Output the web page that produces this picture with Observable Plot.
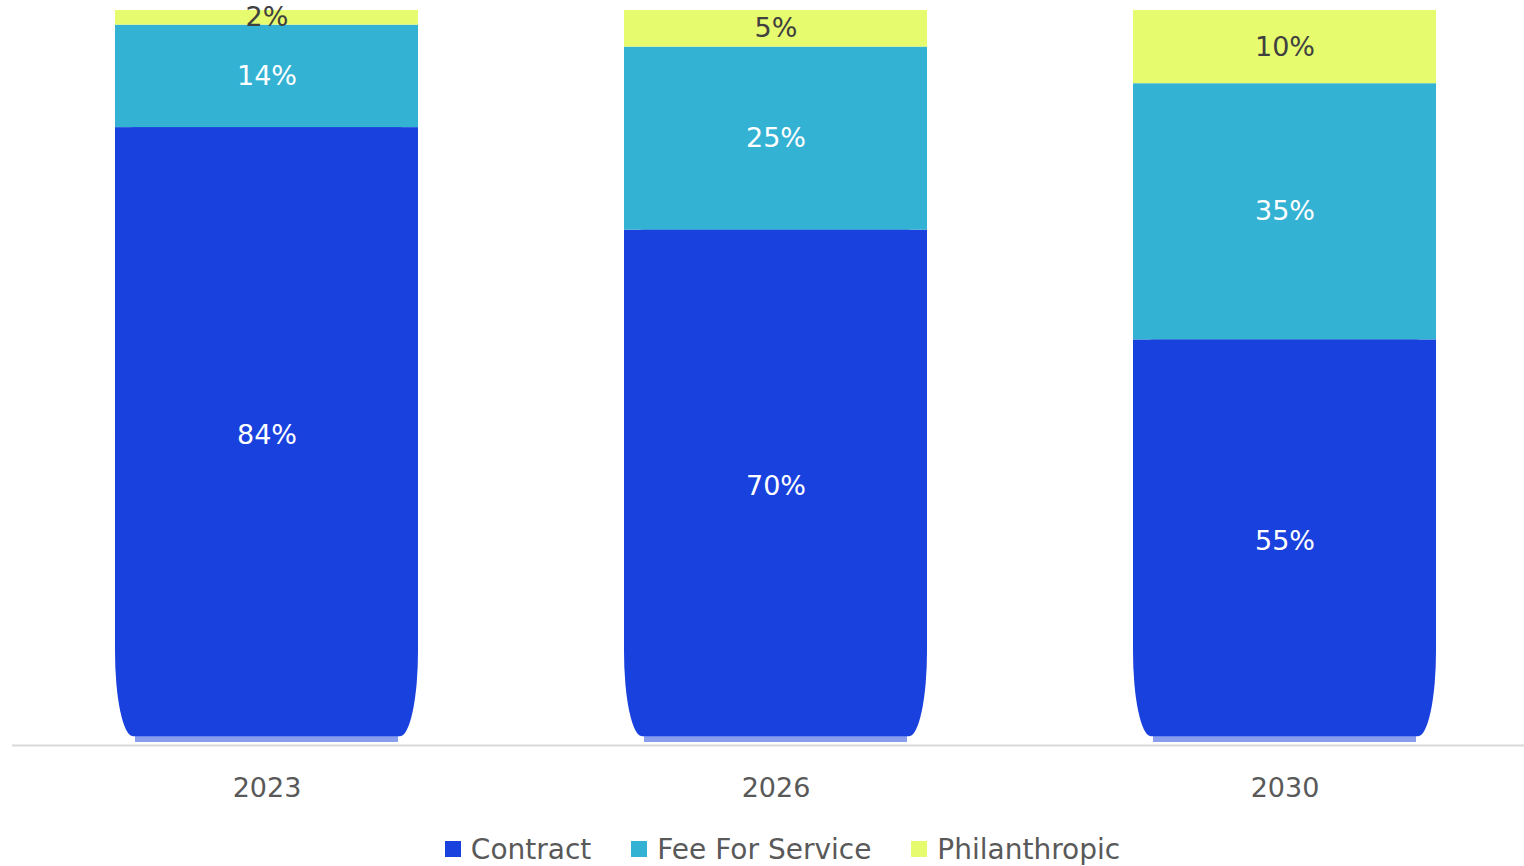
<!DOCTYPE html>
<html>
<head>
<meta charset="utf-8">
<script src="https://cdn.jsdelivr.net/npm/d3@7"></script>
<script src="https://cdn.jsdelivr.net/npm/@observablehq/plot@0.6"></script>
<style>
  html, body { margin: 0; padding: 0; background: #fff; }
  body { width: 1524px; height: 866px; overflow: hidden; font-family: "DejaVu Sans", sans-serif; }
  #chart svg { display: block; }
  #legend { display: flex; justify-content: center; align-items: center; height: 40px; margin-top: 14px; margin-left: 41px; }
  .item { display: flex; align-items: center; margin: 0 20px; font-size: 28px; color: #595959; }
  .sw { width: 16px; height: 16px; margin-right: 10px; }
</style>
</head>
<body>
<div id="chart"></div>
<div id="legend"></div>
<script>
const years = ["2023", "2026", "2030"];
const seriesNames = ["Contract", "Fee For Service", "Philanthropic"];
const contract = [84, 70, 55];
const feeForService = [14, 25, 35];
const philanthropic = [2, 5, 10];
const colors = ["#1941DE", "#33B2D4", "#E6FB6E"];
const labelColors = ["#ffffff", "#ffffff", "#404040"];

const seriesValues = [contract, feeForService, philanthropic];
const rows = [];
years.forEach((yr, i) => {
  let lo = 0;
  seriesValues.forEach((vals, s) => {
    const v = vals[i];
    rows.push({year: yr, series: seriesNames[s], value: v, lo, hi: lo + v, s});
    lo += v;
  });
});
const contractRows = rows.filter(d => d.s === 0);
const otherRows = rows.filter(d => d.s !== 0);

const chart = Plot.plot({
  width: 1524,
  height: 815,
  marginTop: 10,
  marginBottom: 73,
  marginLeft: 12,
  marginRight: 0,
  style: {fontFamily: "DejaVu Sans, sans-serif", fontSize: "27px", color: "#595959", background: "#fff", overflow: "visible"},
  x: {domain: years, paddingInner: 0.405, paddingOuter: 0.1877, align: 0.537, label: null, tickSize: 0, tickPadding: 35},
  y: {domain: [0, 100], axis: null},
  color: {domain: seriesNames, range: colors},
  marks: [
    Plot.barY(contractRows, {x: "year", y1: 0, y2: "hi", fill: "#8A9EF0", insetLeft: 20, insetRight: 20}),
    Plot.barY(contractRows, {x: "year", y1: 0.8, y2: "hi", fill: colors[0], rx: 18, ry: 85}),
    Plot.barY(contractRows, {x: "year", y1: d => d.hi * 0.5, y2: "hi", fill: colors[0]}),
    Plot.barY(otherRows, {x: "year", y1: "lo", y2: "hi", fill: "series"}),
    Plot.ruleY([0], {stroke: "#D9D9D9", strokeWidth: 2, dy: 3}),
    Plot.text(rows, {x: "year", y: d => (d.lo + d.hi) / 2, text: d => d.value + "%", fill: d => labelColors[d.s], fontSize: 27}),
  ]
});
document.getElementById("chart").appendChild(chart);

const legend = document.getElementById("legend");
seriesNames.forEach((name, i) => {
  const item = document.createElement("div");
  item.className = "item";
  const sw = document.createElement("div");
  sw.className = "sw";
  sw.style.background = colors[i];
  const t = document.createElement("span");
  t.textContent = name;
  item.appendChild(sw);
  item.appendChild(t);
  legend.appendChild(item);
});
</script>
</body>
</html>
